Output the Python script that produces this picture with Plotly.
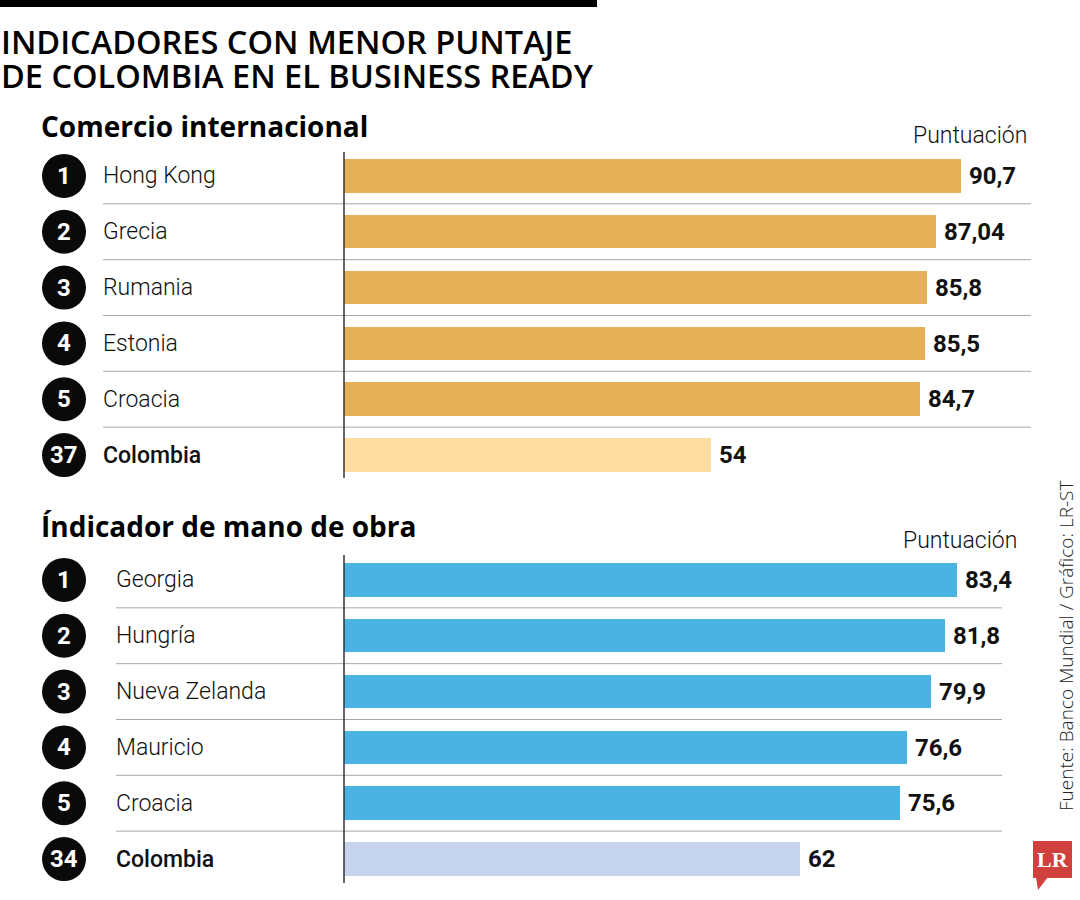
import plotly.graph_objects as go

# ---- data ----
trade_ranks = ["1", "2", "3", "4", "5", "37"]
trade_countries = ["Hong Kong", "Grecia", "Rumania", "Estonia", "Croacia", "Colombia"]
trade_scores = [90.7, 87.04, 85.8, 85.5, 84.7, 54]

labor_ranks = ["1", "2", "3", "4", "5", "34"]
labor_countries = ["Georgia", "Hungría", "Nueva Zelanda", "Mauricio", "Croacia", "Colombia"]
labor_scores = [83.4, 81.8, 79.9, 76.6, 75.6, 62]

title_lines = ["INDICADORES CON MENOR PUNTAJE", "DE COLOMBIA EN EL BUSINESS READY"]
section_titles = ["Comercio internacional", "Índicador de mano de obra"]
source_text = "Fuente: Banco Mundial / Gráfico: LR-ST"

W, H = 1080, 900
NARROW = "Roboto, sans-serif"
HEAD = "Open Sans, sans-serif"


def px(x):
    return x / W


def py(y):
    return 1 - y / H


def fmt(v):
    return f"{v:g}".replace(".", ",")


fig = go.Figure()

panels = [
    dict(ranks=trade_ranks, countries=trade_countries, scores=trade_scores,
         xa="x", ya="y", colors=["#E5B057"] * 5 + ["#FDDDA2"],
         xdom=(344, 1030), scale=6.8, ytop=148, label_x=104, sep_end=1031,
         axis=(152, 478)),
    dict(ranks=labor_ranks, countries=labor_countries, scores=labor_scores,
         xa="x2", ya="y2", colors=["#4BB3E4"] * 5 + ["#C6D3EC"],
         xdom=(344, 1002), scale=7.35, ytop=552, label_x=117, sep_end=1002,
         axis=(555, 883)),
]

ROW = 55.83
shapes = []
annotations = []

for i, p in enumerate(panels):
    n = len(p["scores"])
    yvals = list(range(n))
    fig.add_trace(go.Bar(
        x=p["scores"], y=yvals, orientation="h",
        marker=dict(color=p["colors"], line=dict(width=0)),
        width=0.6,
        text=["\u2009" + fmt(v) for v in p["scores"]],
        textposition="outside",
        textfont=dict(family=NARROW, size=24, color="#111111", weight="bold"),
        cliponaxis=False,
        xaxis=p["xa"], yaxis=p["ya"], showlegend=False, hoverinfo="skip",
    ))
    xr = (p["xdom"][1] - p["xdom"][0]) / p["scale"]
    suffix = "" if i == 0 else "2"
    y0 = p["ytop"]
    y1 = y0 + n * ROW
    fig.update_layout(**{
        "xaxis" + suffix: dict(domain=[px(p["xdom"][0]), px(p["xdom"][1])],
                               range=[0, xr], visible=False, fixedrange=True),
        "yaxis" + suffix: dict(domain=[py(y1), py(y0)], range=[n - 0.5, -0.5],
                               visible=False, fixedrange=True,
                               anchor="x" + suffix),
    })
    yref = "y" + suffix
    # separators
    for k in range(n - 1):
        shapes.append(dict(type="line", xref="paper", yref=yref,
                           x0=px(p["label_x"] - 1), x1=px(p["sep_end"]),
                           y0=k + 0.5, y1=k + 0.5,
                           line=dict(color="#A8A8A8", width=1), layer="below"))
    # axis line
    shapes.append(dict(type="line", xref="paper", yref="paper",
                       x0=px(344), x1=px(344), y0=py(p["axis"][0]), y1=py(p["axis"][1]),
                       line=dict(color="#333333", width=1.5)))
    # rank circles + labels
    r = 22 / ROW
    for k in range(n):
        shapes.append(dict(type="circle", xref="paper", yref=yref,
                           x0=px(64 - 22), x1=px(64 + 22), y0=k - r, y1=k + r,
                           fillcolor="#0A0A0A", line=dict(width=0)))
        annotations.append(dict(x=px(64), y=k, xref="paper", yref=yref,
                                text=p["ranks"][k], showarrow=False,
                                xanchor="center", yanchor="middle",
                                font=dict(family=NARROW, size=24, color="white",
                                          weight="bold")))
        bold = p["countries"][k] == "Colombia"
        annotations.append(dict(x=px(p["label_x"] - 3), y=k, xref="paper", yref=yref,
                                text=p["countries"][k], showarrow=False,
                                xanchor="left", yanchor="middle",
                                font=dict(family=NARROW, size=23, color="#111111",
                                          weight=500 if bold else 300)))

# title band
shapes.append(dict(type="rect", xref="paper", yref="paper", x0=0, x1=px(597),
                   y0=py(0), y1=py(7), fillcolor="#000000", line=dict(width=0)))
for t, yc in zip(title_lines, [42, 75]):
    annotations.append(dict(x=px(-1), y=py(yc), xref="paper", yref="paper", text=t,
                            showarrow=False, xanchor="left", yanchor="middle",
                            font=dict(family=HEAD, size=32.5, color="#000000", weight=600)))
for t, yc in zip(section_titles, [126, 526]):
    annotations.append(dict(x=px(39), y=py(yc), xref="paper", yref="paper", text=t,
                            showarrow=False, xanchor="left", yanchor="middle",
                            font=dict(family=HEAD, size=28, color="#000000", weight="bold")))
for xr_, yc in [(1029, 135), (1019, 540)]:
    annotations.append(dict(x=px(xr_), y=py(yc), xref="paper", yref="paper",
                            text="Puntuación", showarrow=False, xanchor="right",
                            yanchor="middle",
                            font=dict(family=NARROW, size=23, color="#111111", weight=300)))

# source
annotations.append(dict(x=px(1066), y=py(646), xref="paper", yref="paper",
                        text=source_text, textangle=-90, showarrow=False,
                        xanchor="center", yanchor="middle",
                        font=dict(family=HEAD, size=19, color="#222222", weight=300)))
# LR logo
shapes.append(dict(type="rect", xref="paper", yref="paper", x0=px(1033), x1=px(1072),
                   y0=py(841), y1=py(878), fillcolor="#D0413E", line=dict(width=0)))
shapes.append(dict(type="path", xref="paper", yref="paper",
                   path=f"M {px(1036)} {py(877)} L {px(1048)} {py(877)} L {px(1038)} {py(890)} Z",
                   fillcolor="#D0413E", line=dict(width=0)))
annotations.append(dict(x=px(1052.5), y=py(859), xref="paper", yref="paper", text="LR",
                        showarrow=False, xanchor="center", yanchor="middle",
                        font=dict(family="Liberation Serif, serif", size=22,
                                  color="white", weight="bold")))

fig.update_layout(
    width=W, height=H, margin=dict(l=0, r=0, t=0, b=0),
    paper_bgcolor="white", plot_bgcolor="rgba(0,0,0,0)",
    shapes=shapes, annotations=annotations, bargap=0,
)

fig.write_html("out.html")
